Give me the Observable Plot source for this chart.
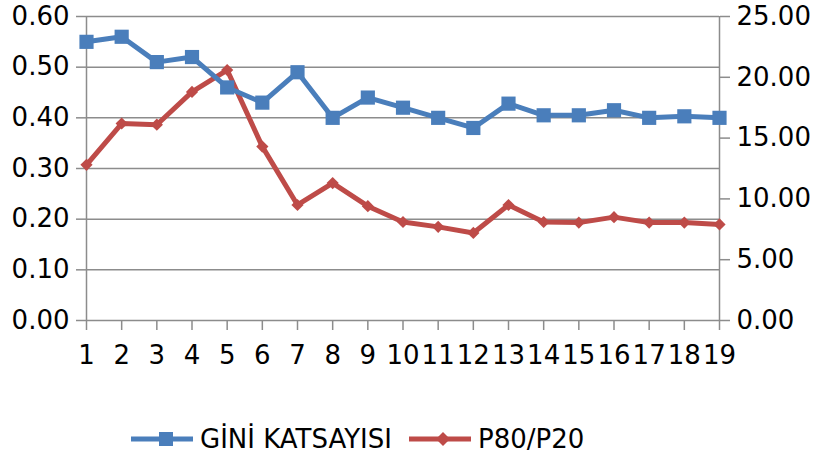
<!DOCTYPE html>
<html>
<head>
<meta charset="utf-8">
<script src="https://cdn.jsdelivr.net/npm/d3@7"></script>
<script src="https://cdn.jsdelivr.net/npm/@observablehq/plot@0.6"></script>
<style>
  body { margin: 0; background: #fff; font-family: "DejaVu Sans", sans-serif; }
  #chart { width: 814px; height: 400px; }
  #legend { position: relative; width: 814px; height: 58px; }
  .item { position: absolute; top: 24px; display: flex; align-items: center; font-size: 26px; color: #000; }
  .item svg { margin-right: 7px; }
</style>
</head>
<body>
<div id="chart"></div>
<div id="legend"></div>
<script>
const periods = [1,2,3,4,5,6,7,8,9,10,11,12,13,14,15,16,17,18,19];
const gini = [0.55,0.56,0.51,0.52,0.46,0.43,0.49,0.40,0.44,0.42,0.40,0.38,0.428,0.405,0.405,0.415,0.40,0.403,0.40];
const p80p20 = [12.8,16.2,16.1,18.8,20.6,14.3,9.5,11.3,9.4,8.1,7.7,7.2,9.5,8.1,8.05,8.5,8.05,8.05,7.9];
const leftTicks = [0,0.1,0.2,0.3,0.4,0.5,0.6];
const rightTicks = [0,5,10,15,20,25];
const seriesNames = ["GİNİ KATSAYISI","P80/P20"];

const blue = "#4a7ebb", red = "#be4b48", grid = "#8c8c8c";
const k = 0.6 / 25; // right axis -> left scale

const giniData = periods.map((p,i) => ({x:p, y:gini[i]}));
const ratioData = periods.map((p,i) => ({x:p, y:p80p20[i]*k}));

const chart = Plot.plot({
  width: 814, height: 400,
  marginTop: 16, marginBottom: 80, marginLeft: 86, marginRight: 95,
  style: {fontFamily: "DejaVu Sans, sans-serif", fontSize: "26px", color: "#000", background: "#fff"},
  x: {type: "linear", domain: [1,19]},
  y: {domain: [0,0.6]},
  marks: [
    Plot.gridY(leftTicks.filter(d => d > 0), {stroke: grid, strokeOpacity: 1, strokeWidth: 1.5}),
    Plot.ruleX([1], {y1: 0, y2: 0.6, stroke: grid, strokeWidth: 1.5}),
    Plot.ruleX([19], {y1: 0, y2: 0.6, stroke: grid, strokeWidth: 1.5}),
    Plot.ruleY([0], {stroke: grid, strokeWidth: 1.5}),
    Plot.axisY(leftTicks, {anchor: "left", tickFormat: d3.format(".2f"), tickSize: 10, tickPadding: 7, stroke: grid, strokeWidth: 1.5, fontSize: 26, label: null, fill: "#000"}),
    Plot.axisY(rightTicks.map(d => d*k), {anchor: "right", tickFormat: d => (d/k).toFixed(2), tickSize: 10, tickPadding: 7, stroke: grid, strokeWidth: 1.5, fontSize: 26, label: null, fill: "#000"}),
    Plot.axisX(periods, {anchor: "bottom", tickFormat: d => String(d), tickSize: 10, tickPadding: 15, stroke: grid, strokeWidth: 1.5, fontSize: 26, label: null, fill: "#000"}),
    Plot.line(ratioData, {x: "x", y: "y", stroke: red, strokeWidth: 5}),
    Plot.dot(ratioData, {x: "x", y: "y", symbol: "diamond2", r: 5.5, fill: red, stroke: "none"}),
    Plot.line(giniData, {x: "x", y: "y", stroke: blue, strokeWidth: 5}),
    Plot.dot(giniData, {x: "x", y: "y", symbol: "square", r: 8, fill: blue, stroke: "none"})
  ]
});
document.getElementById("chart").appendChild(chart);

const legend = document.getElementById("legend");
const items = [
  {name: seriesNames[0], color: blue, left: 131, marker: '<rect x="25" y="8" width="14" height="14"/>'},
  {name: seriesNames[1], color: red, left: 409, marker: '<path d="M31,8 L38,15 L31,22 L24,15 Z"/>'}
];
items.forEach(it => {
  const d = document.createElement("div");
  d.className = "item";
  d.style.left = it.left + "px";
  d.innerHTML = `<svg width="62" height="30"><line x1="0" x2="62" y1="15" y2="15" stroke="${it.color}" stroke-width="5"/><g fill="${it.color}" transform="translate(3,0)">${it.marker}</g></svg><span>${it.name}</span>`;
  legend.appendChild(d);
});
</script>
</body>
</html>
